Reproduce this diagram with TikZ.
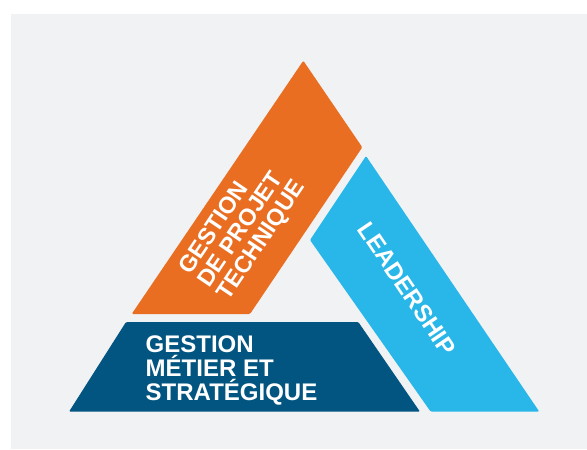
\documentclass[tikz,border=0pt]{standalone}
\usepackage{fontspec}
\setmainfont{Liberation Sans}
\definecolor{bggray}{RGB}{241,242,244}
\definecolor{projorange}{RGB}{233,110,34}
\definecolor{leadblue}{RGB}{41,182,232}
\definecolor{bizblue}{RGB}{1,85,128}
\begin{document}
\begin{tikzpicture}[x=1pt,y=-1pt,
  facet/.style={rounded corners=1.2pt},
  facetlabel/.style={text=white,font=\bfseries\fontsize{24}{24}\selectfont,inner sep=0pt,align=left}]
\useasboundingbox (0,0) rectangle (587,450);
\fill[bggray] (11,14) rectangle (587,449);
% top-left facet
\fill[projorange,facet] (303.3,60.7) -- (362.3,147.3) -- (250,314) -- (131.7,314) -- cycle;
% right facet
\fill[leadblue,facet] (366,156) -- (539.3,411.7) -- (430.7,411.7) -- (310,240) -- cycle;
% bottom facet
\fill[bizblue,facet] (126,322) -- (358.3,322) -- (420,411.7) -- (69,411.7) -- cycle;
\node[facetlabel,font=\bfseries\fontsize{23.5}{23}\selectfont,rotate=56] (proj) at (243,228) {GESTION\\DE PROJET\\TECHNIQUE};
\node[facetlabel,rotate=-56] (lead) at (407,289) {LEADERSHIP};
\node[facetlabel,anchor=north west] (biz) at (145.5,336) {GESTION\\MÉTIER ET\\STRATÉGIQUE};
\end{tikzpicture}
\end{document}
